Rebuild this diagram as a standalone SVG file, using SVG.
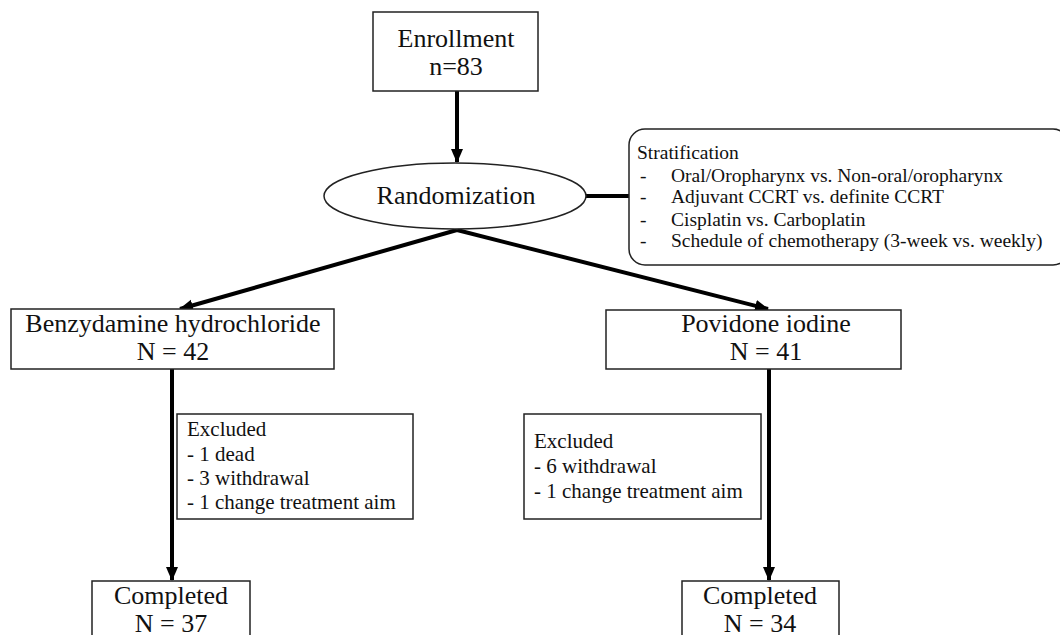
<svg xmlns="http://www.w3.org/2000/svg" width="1060" height="635" viewBox="0 0 1060 635">
<style>
.box{fill:#fff;stroke:#222;stroke-width:1.5}
.t{font-family:"Liberation Serif","Times New Roman",serif;fill:#111}
.big{font-size:26px;text-anchor:middle}
.mid{font-size:21px}
.sm{font-size:19.5px}
.ln{stroke:#000;stroke-width:4;fill:none}
</style>
<defs>
<marker id="ah" markerUnits="userSpaceOnUse" markerWidth="14" markerHeight="14" viewBox="0 0 14 14" refX="13" refY="7" orient="auto">
<path d="M0,1 L14,7 L0,13 Z" fill="#000"/>
</marker>
</defs>
<g id="connectors">
<line class="ln" x1="457" y1="91" x2="457" y2="162" marker-end="url(#ah)"/>
<line class="ln" x1="586" y1="196" x2="630" y2="196" stroke-width="3"/>
<line class="ln" x1="457" y1="230" x2="180" y2="309" marker-end="url(#ah)"/>
<line class="ln" x1="457" y1="230" x2="768" y2="309" marker-end="url(#ah)"/>
<line class="ln" x1="172" y1="369" x2="172" y2="580" marker-end="url(#ah)"/>
<line class="ln" x1="769" y1="369" x2="769" y2="580" marker-end="url(#ah)"/>
</g>
<g id="enrollment">
<rect class="box" x="373" y="12" width="165" height="79"/>
<text class="t big" x="456" y="47">Enrollment</text>
<text class="t big" x="456" y="75">n=83</text>
</g>
<g id="randomization">
<ellipse class="box" cx="455" cy="196" rx="131" ry="33"/>
<text class="t big" x="456" y="204">Randomization</text>
</g>
<g id="stratification">
<rect class="box" x="629" y="129" width="440" height="136" rx="16"/>
<text class="t sm" x="637" y="159">Stratification</text>
<text class="t sm" x="640" y="182">-</text>
<text class="t sm" x="671" y="182">Oral/Oropharynx vs. Non-oral/oropharynx</text>
<text class="t sm" x="640" y="203">-</text>
<text class="t sm" x="671" y="203">Adjuvant CCRT vs. definite CCRT</text>
<text class="t sm" x="640" y="226">-</text>
<text class="t sm" x="671" y="226">Cisplatin vs. Carboplatin</text>
<text class="t sm" x="640" y="247">-</text>
<text class="t sm" x="671" y="247">Schedule of chemotherapy (3-week vs. weekly)</text>
</g>
<g id="benzydamine">
<rect class="box" x="11" y="309" width="323" height="60"/>
<text class="t big" x="173" y="332">Benzydamine hydrochloride</text>
<text class="t big" x="173" y="360">N = 42</text>
</g>
<g id="povidone">
<rect class="box" x="606" y="310" width="295" height="59"/>
<text class="t big" x="766" y="332">Povidone iodine</text>
<text class="t big" x="766" y="360">N = 41</text>
</g>
<g id="excluded-left">
<rect class="box" x="177" y="414" width="236" height="105"/>
<text class="t mid" x="187" y="436">Excluded</text>
<text class="t mid" x="187" y="461">- 1 dead</text>
<text class="t mid" x="187" y="485">- 3 withdrawal</text>
<text class="t mid" x="187" y="509">- 1 change treatment aim</text>
</g>
<g id="excluded-right">
<rect class="box" x="524" y="414" width="237" height="105"/>
<text class="t mid" x="534" y="448">Excluded</text>
<text class="t mid" x="534" y="473">- 6 withdrawal</text>
<text class="t mid" x="534" y="498">- 1 change treatment aim</text>
</g>
<g id="completed-left">
<rect class="box" x="92" y="581" width="158" height="70"/>
<text class="t big" x="171" y="604">Completed</text>
<text class="t big" x="171" y="632">N = 37</text>
</g>
<g id="completed-right">
<rect class="box" x="682" y="581" width="157" height="70"/>
<text class="t big" x="760" y="604">Completed</text>
<text class="t big" x="760" y="632">N = 34</text>
</g>
</svg>
